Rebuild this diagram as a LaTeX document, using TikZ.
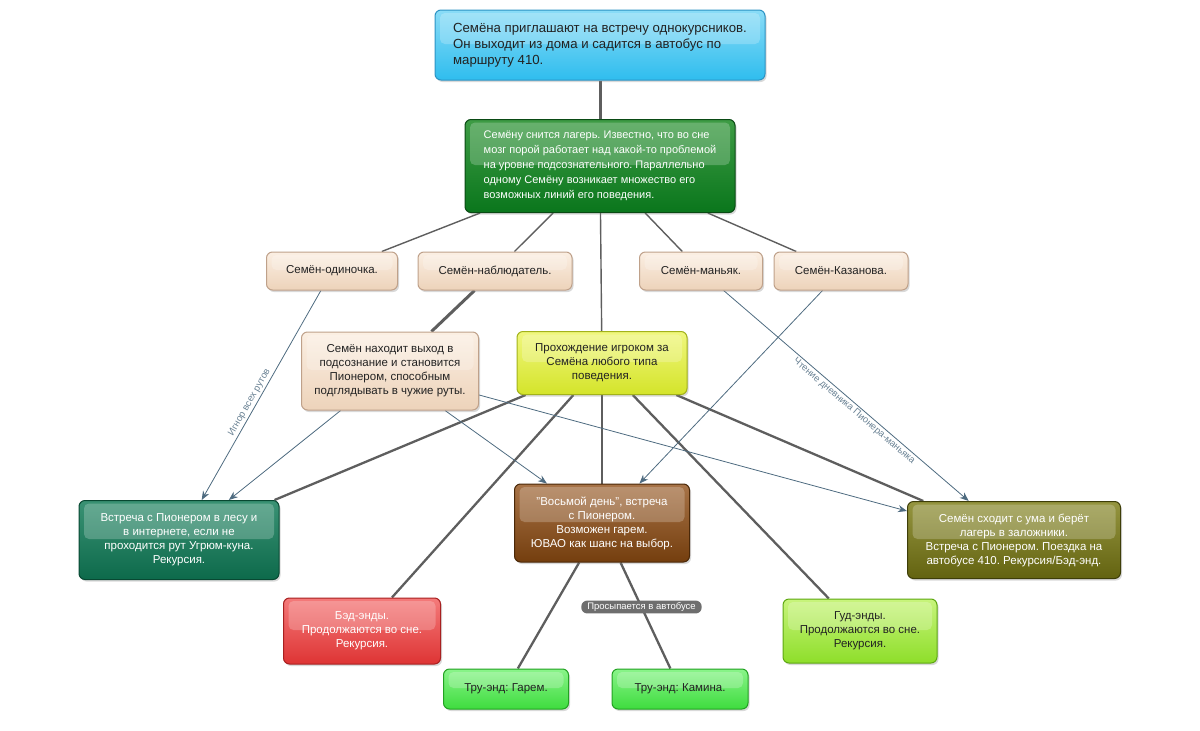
\documentclass[tikz,border=0pt]{standalone}
\usepackage{fontspec}
\setmainfont{Liberation Sans}
\usetikzlibrary{arrows.meta, shadows, backgrounds}
\frenchspacing
\definecolor{mapink}{HTML}{222222}
\definecolor{mapgray}{HTML}{5E5E5E}
\definecolor{maparrow}{HTML}{4E6B80}
\definecolor{mappill}{HTML}{6E6E6E}
%% box colours: border / top / bottom
\definecolor{skyedge}{HTML}{2C93C4}\definecolor{skytop}{HTML}{8ADCF7}\definecolor{skybot}{HTML}{2FBDEE}
\definecolor{pineedge}{HTML}{0A4A14}\definecolor{pinetop}{HTML}{3E9C45}\definecolor{pinebot}{HTML}{0A761C}
\definecolor{sandedge}{HTML}{BFA18A}\definecolor{sandtop}{HTML}{FBEFE3}\definecolor{sandbot}{HTML}{EDD3BA}
\definecolor{limeedge}{HTML}{A2B21A}\definecolor{limetop}{HTML}{F0F77E}\definecolor{limebot}{HTML}{D4E42A}
\definecolor{tealedge}{HTML}{084832}\definecolor{tealtop}{HTML}{3A9274}\definecolor{tealbot}{HTML}{0D6A4B}
\definecolor{rustedge}{HTML}{4A2808}\definecolor{rusttop}{HTML}{A87448}\definecolor{rustbot}{HTML}{743E0E}
\definecolor{oliveedge}{HTML}{3E3E08}\definecolor{olivetop}{HTML}{959540}\definecolor{olivebot}{HTML}{636310}
\definecolor{rededge}{HTML}{A82020}\definecolor{redtop}{HTML}{F47A7A}\definecolor{redbot}{HTML}{DE3434}
\definecolor{goodedge}{HTML}{5EA812}\definecolor{goodtop}{HTML}{C8F47C}\definecolor{goodbot}{HTML}{8EDE2A}
\definecolor{trueedge}{HTML}{22A222}\definecolor{truetop}{HTML}{8AF48A}\definecolor{truebot}{HTML}{3EDC3E}

\begin{document}
\begin{tikzpicture}[x=1pt, y=-1pt,
  box/.style={rounded corners=6pt, line width=1pt, align=center, inner sep=0pt,
              font=\fontsize{11.5}{14}\selectfont, text=mapink,
              drop shadow={opacity=0.3, shadow xshift=1.5pt, shadow yshift=-2pt},
              path picture={\fill[white, opacity=0.22, rounded corners=5pt]
                ([xshift=5pt, yshift=-3pt]path picture bounding box.north west) rectangle
                ([xshift=-5pt, yshift=1pt]path picture bounding box.east);}},
  sz/.style 2 args={minimum width=#1pt, minimum height=#2pt},
  paint/.style={draw=#1edge, top color=#1top, bottom color=#1bot},
  light/.style={text=white},
  link/.style={line width=2.3pt, mapgray},
  arr/.style={-{Stealth[length=9pt, width=7pt]}, line width=0.8pt, maparrow},
  lbl/.style={sloped, inner sep=2pt, font=\fontsize{9.5}{11}\selectfont, text=maparrow!85},
  pill/.style={fill=mappill, rounded corners=6pt, text=white, inner sep=2pt,
               inner xsep=6pt, font=\fontsize{9.5}{10}\selectfont}
]
  \useasboundingbox (0,0) rectangle (1200,731);

  %% Start and dream
  \node[box, sz={330}{70}, paint=sky, align=left,
        font=\fontsize{13.2}{16}\selectfont] (start) at (600,45)
        {Семёна приглашают на встречу однокурсников.\\Он выходит из дома и садится в автобус по\\маршруту 410.};
  \node[box, light, sz={270}{93}, paint=pine, align=left,
        font=\fontsize{11}{15}\selectfont] (dream) at (600,166)
        {Семёну снится лагерь. Известно, что во сне\\мозг порой работает над какой-то проблемой\\на уровне подсознательного. Параллельно\\одному Семёну возникает множество его\\возможных линий его поведения.};

  %% Behaviour lines
  \node[box, sz={131}{38}, paint=sand] (loner)    at (332,271) {Семён-одиночка.};
  \node[box, sz={154}{38}, paint=sand] (watcher)  at (495,271) {Семён-наблюдатель.};
  \node[box, sz={123}{38}, paint=sand] (maniac)   at (701,271) {Семён-маньяк.};
  \node[box, sz={134}{38}, paint=sand] (casanova) at (841,271) {Семён-Казанова.};

  %% Middle row
  \node[box, sz={177}{78}, paint=sand] (escape) at (390,371)
        {Семён находит выход в\\подсознание и становится\\Пионером, способным\\подглядывать в чужие руты.};
  \node[box, sz={170}{63}, paint=lime] (play) at (602,363)
        {Прохождение игроком за\\Семёна любого типа\\поведения.};

  %% Routes
  \node[box, light, sz={200}{79}, paint=teal] (forest) at (179,540)
        {Встреча с Пионером в лесу и\\в интернете, если не\\проходится рут Угрюм-куна.\\Рекурсия.};
  \node[box, light, sz={175}{78}, paint=rust] (eighth) at (602,523)
        {"Восьмой день", встреча\\с Пионером.\\Возможен гарем.\\ЮВАО как шанс на выбор.};
  \node[box, light, sz={213}{77}, paint=olive] (hostage) at (1014,540)
        {Семён сходит с ума и берёт\\лагерь в заложники.\\Встреча с Пионером. Поездка на\\автобусе 410. Рекурсия/Бэд-энд.};

  %% Endings
  \node[box, light, sz={157}{66}, paint=red] (bad) at (362,631)
        {Бэд-энды.\\Продолжаются во сне.\\Рекурсия.};
  \node[box, sz={154}{64}, paint=good] (good) at (860,631)
        {Гуд-энды.\\Продолжаются во сне.\\Рекурсия.};
  \node[box, sz={125}{40}, paint=true] (harem)  at (506,689) {Тру-энд: Гарем.};
  \node[box, sz={136}{40}, paint=true] (kamina) at (680,689) {Тру-энд: Камина.};

  \begin{scope}[on background layer]
    %% Gray links
    \draw[link, line width=3pt] (start) -- (dream);
    \foreach \n in {loner, watcher, maniac, casanova}
      \draw[link, line width=1.4pt] (dream) -- (\n);
    \draw[link, line width=1.4pt] (dream) -- (play);
    \draw[link, line width=3pt] (watcher) -- (escape);
    \foreach \n in {forest, bad, eighth, good, hostage}
      \draw[link] (play) -- (\n);
    \draw[link] (eighth) -- (harem);
    \draw[link] (eighth) -- node[pill, pos=0.42]{Просыпается в автобусе} (kamina);

    %% Arrows
    \draw[arr] (loner)    -- node[lbl, above, pos=0.55]{Игнор всех рутов} (forest);
    \draw[arr] (escape)   -- (forest);
    \draw[arr] (escape)   -- (eighth);
    \draw[arr] (escape)   -- (hostage);
    \draw[arr] (maniac)   -- node[lbl, below, pos=0.55]{Чтение дневника Пионера-маньяка} (hostage);
    \draw[arr] (casanova) -- (eighth);
  \end{scope}
\end{tikzpicture}
\end{document}
